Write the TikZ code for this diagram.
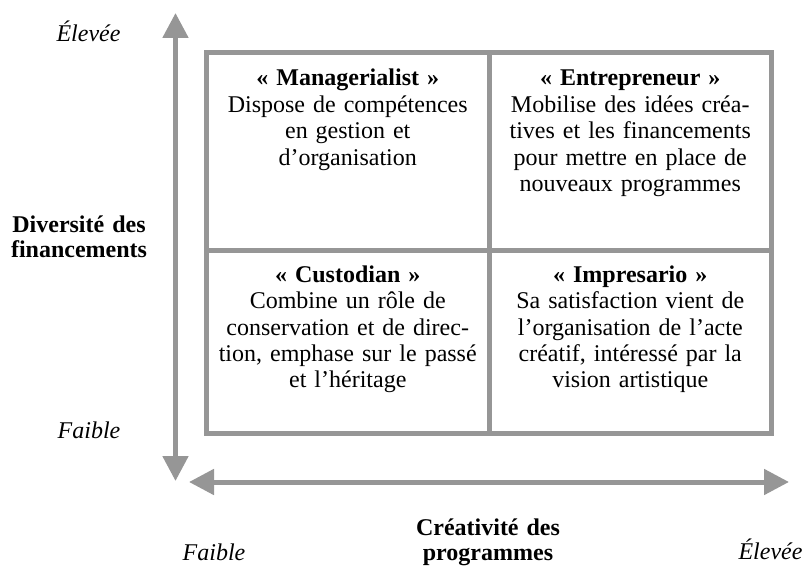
\documentclass[tikz,border=0pt]{standalone}
\usepackage{fontspec}
\setmainfont{Liberation Serif}
\usetikzlibrary{arrows.meta}
\definecolor{axisgray}{RGB}{150,150,150}
\tikzset{
  frameline/.style={draw=axisgray, line width=5pt},
  axisarrow/.style={draw=axisgray, line width=5pt,
    {Triangle[width=25pt,length=25pt]}-{Triangle[width=25pt,length=25pt]}},
  celltext/.style={anchor=base, inner sep=0pt, align=center, text width=275pt,
    font=\fontsize{24}{26.5}\selectfont},
  axislabel/.style={anchor=base, inner sep=0pt, align=center, text width=160pt,
    font=\bfseries\fontsize{24}{25}\selectfont},
  levellabel/.style={anchor=base, inner sep=0pt, font=\itshape\fontsize{24}{26}\selectfont}
}
\begin{document}
\begin{tikzpicture}[x=1pt,y=-1pt]
\useasboundingbox (0,0) rectangle (804,567);
% frame
\coordinate (tl) at (206.5,53);
\coordinate (br) at (771.5,433);
\coordinate (mt) at (489,53);
\coordinate (mb) at (489,433);
\coordinate (ml) at (206.5,250);
\coordinate (mr) at (771.5,250);
\draw[frameline] (tl) rectangle (br);
\draw[frameline] (mt) -- (mb);
\draw[frameline] (ml) -- (mr);
% axes
\coordinate (vtop) at (175.5,13);
\coordinate (vbot) at (175.5,481);
\coordinate (hleft) at (189,482);
\coordinate (hright) at (789,482);
\draw[axisarrow] (vtop) -- (vbot);
\draw[axisarrow] (hleft) -- (hright);
% quadrants
\node[celltext] (q1) at (347.75,86) {\textbf{« Managerialist »}\\Dispose de compétences\\en gestion et\\d’organisation};
\node[celltext] (q2) at (630.25,86) {\textbf{« Entrepreneur »}\\Mobilise des idées créa-\\tives et les financements\\pour mettre en place de\\nouveaux programmes};
\node[celltext] (q3) at (347.75,282) {\textbf{« Custodian »}\\Combine un rôle de\\conservation et de direc-\\tion, emphase sur le passé\\et l’héritage};
\node[celltext] (q4) at (630.25,282) {\textbf{« Impresario »}\\Sa satisfaction vient de\\l’organisation de l’acte\\créatif, intéressé par la\\vision artistique};
% axis labels
\node[axislabel] (ylab) at (79,233) {Diversité des\\financements};
\node[axislabel] (xlab) at (488,535) {Créativité des\\programmes};
\node[levellabel] (yhigh) at (88.5,42) {Élevée};
\node[levellabel] (ylow) at (89,438) {Faible};
\node[levellabel] (xlow) at (214,560) {Faible};
\node[levellabel] (xhigh) at (770.5,559) {Élevée};
\end{tikzpicture}
\end{document}
